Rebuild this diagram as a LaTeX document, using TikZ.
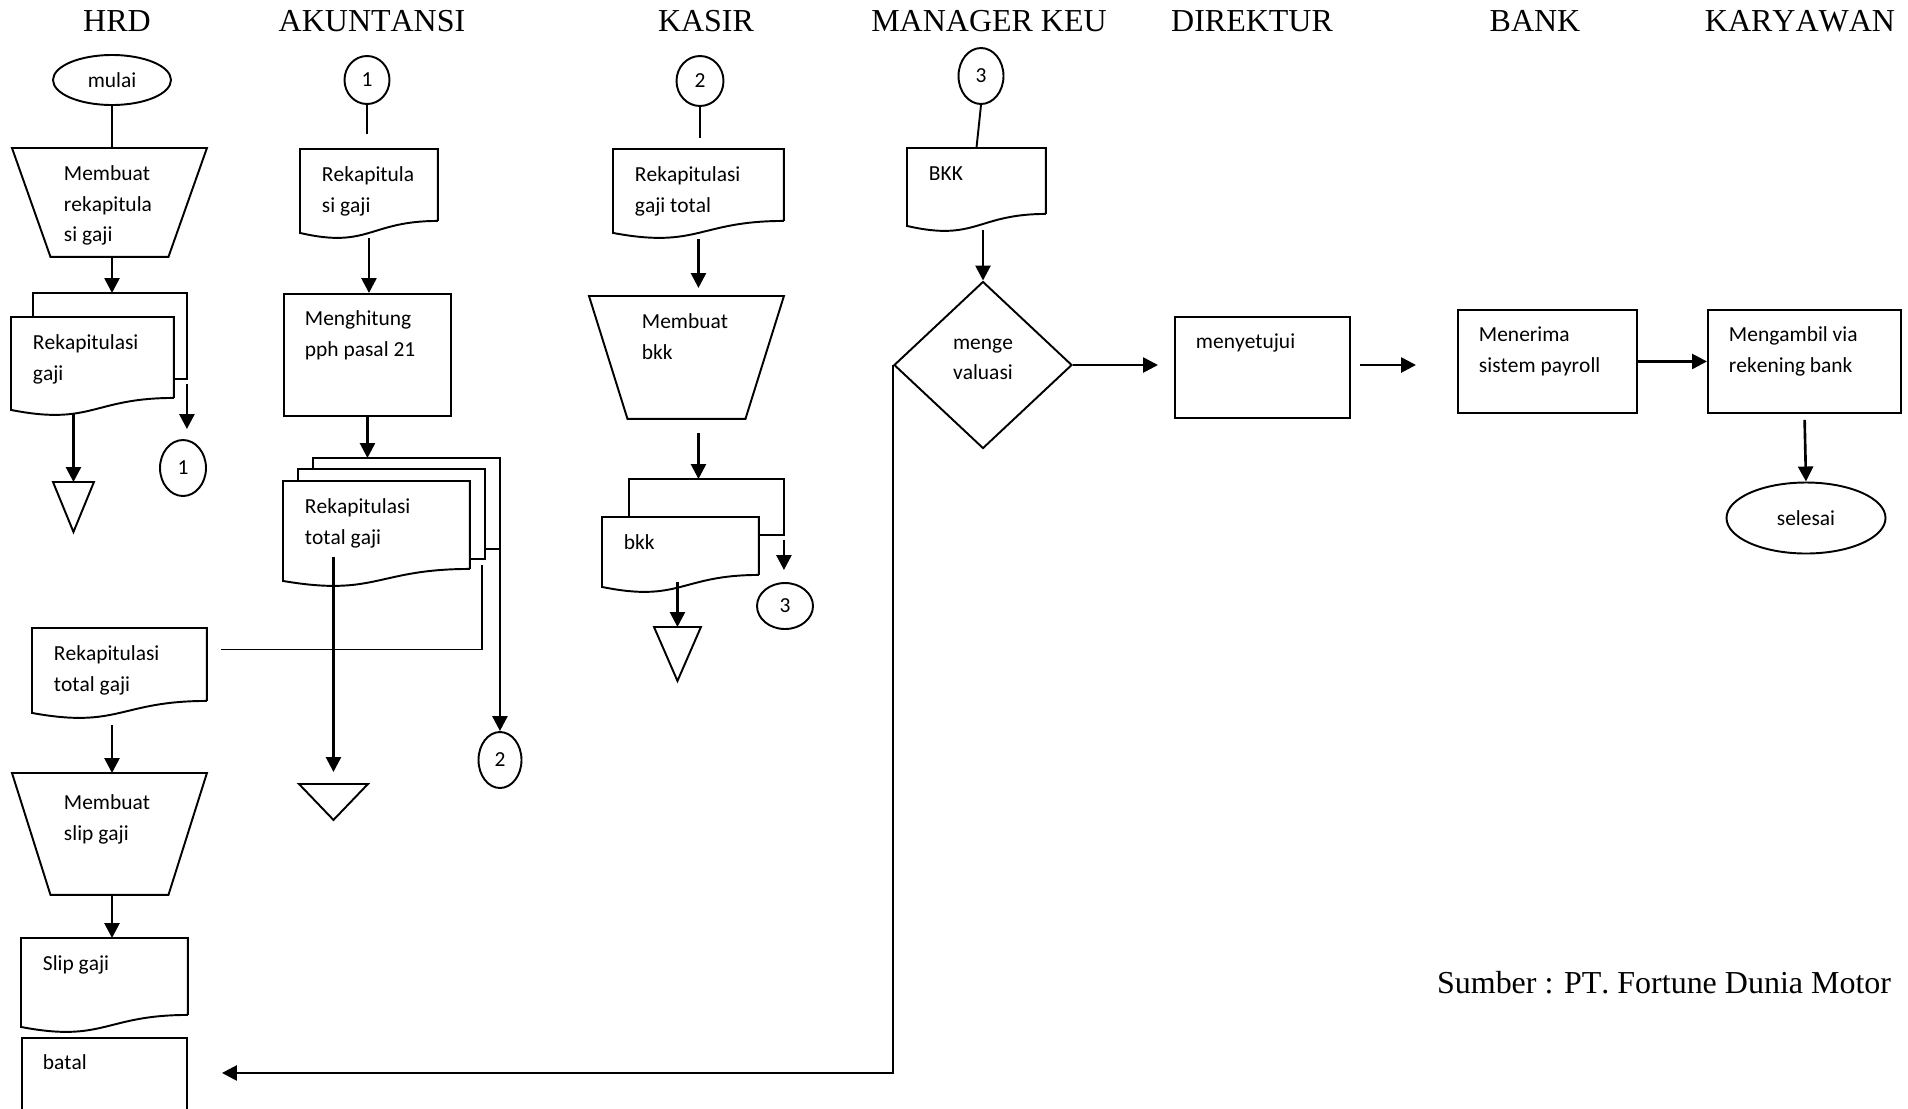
\documentclass[tikz,border=0pt]{standalone}
\usepackage{fontspec}
\setmainfont{Liberation Serif}[Kerning=Off]
\newfontfamily\bodyfamily{Carlito}[Kerning=Off]
\usetikzlibrary{arrows.meta,shapes.geometric}
\newcommand{\bodyfont}{\bodyfamily\fontsize{12.2}{17.1}\selectfont}
\newcommand{\titlefont}{\rmfamily\fontsize{18.2}{21}\selectfont}

\begin{document}
\begin{tikzpicture}[
    x=0.2mm, y=-0.2mm, line width=1.1pt,
    box/.style = { inner sep=0pt, anchor=north west },
    proc/.style = { box, draw },
    txt/.style = { anchor=north west, inner sep=0pt, xshift=4.2mm,
                   text width=40mm, align=flush left, text height=6.4mm,
                   text depth=0pt, font=\bodyfont },
    conn/.style = { draw, ellipse, inner sep=0pt, font=\bodyfont },
    head/.style = { font=\titlefont },
    arr/.style = { line width=1.5pt, -{Triangle[length=3mm,width=3mm]} }
    ]
\useasboundingbox (0,0) rectangle (1908,1108);
%
\node[head] (HRD) at (117,21) {HRD};
\node[head] (AKT) at (372,21) {AKUNTANSI};
\node[head] (KSR) at (706,21) {KASIR};
\node[head] (MGR) at (989,21) {MANAGER KEU};
\node[head] (DIR) at (1252,21) {DIREKTUR};
\node[head] (BNK) at (1535,21) {BANK};
\node[head] (KRY) at (1800,21) {KARYAWAN};
\node[head, anchor=east, inner sep=0pt] (SBR) at (1892,983) {Sumber : PT. Fortune Dunia Motor};
%
% HRD
\node[conn, minimum width=23.6mm, minimum height=10mm] (mulai) at (112,80) {mulai};
\node[box, minimum width=38.6mm, minimum height=21.4mm,
      label={[txt, xshift=6mm]north west:Membuat\\rekapitula\\si gaji}] (trapA) at (12,148) {};
\node[box, minimum width=30.4mm, minimum height=16.8mm] (backA) at (33,293) {};
\node[box, minimum width=32.2mm, minimum height=15.8mm,
      label={[txt]north west:Rekapitulasi\\gaji}] (docA) at (11,317) {};
\node[box, minimum width=7.8mm, minimum height=9.6mm] (triA) at (53,482) {};
\node[conn, minimum width=9.2mm, minimum height=11.2mm] (c1a) at (183,468) {1};
\node[box, minimum width=34.6mm, minimum height=14.2mm,
      label={[txt]north west:Rekapitulasi\\total gaji}] (docB) at (32,628) {};
\node[box, minimum width=38.6mm, minimum height=24mm,
      label={[txt, xshift=6mm, yshift=-0.8mm]north west:Membuat\\slip gaji}] (trapB) at (12,773) {};
\node[box, minimum width=33mm, minimum height=15mm,
      label={[txt]north west:Slip gaji}] (docC) at (21,938) {};
\node[proc, minimum width=33mm, minimum height=18mm,
      label={[txt]north west:batal}] (batal) at (21,1037) {};
%
% AKUNTANSI
\node[conn, minimum width=9mm, minimum height=9.6mm] (c1b) at (367,80) {1};
\node[box, minimum width=27.2mm, minimum height=14mm,
      label={[txt]north west:Rekapitula\\si gaji}] (docD) at (300,149) {};
\node[proc, minimum width=33.4mm, minimum height=24.4mm,
      label={[txt]north west:Menghitung\\pph pasal 21}] (pph) at (283,293) {};
\node[box, minimum width=37mm, minimum height=17.8mm] (backE) at (313,458) {};
\node[box, minimum width=37mm, minimum height=17.6mm] (midE) at (298,469) {};
\node[box, minimum width=37mm, minimum height=17.2mm,
      label={[txt]north west:Rekapitulasi\\total gaji}] (docE) at (283,481) {};
\node[box, minimum width=13.4mm, minimum height=6.8mm] (triB) at (299,784) {};
\node[conn, minimum width=8.6mm, minimum height=11.2mm] (c2a) at (500,760) {2};
%
% KASIR
\node[conn, minimum width=9.4mm, minimum height=10mm] (c2b) at (700,81) {2};
\node[box, minimum width=33.8mm, minimum height=14mm,
      label={[txt]north west:Rekapitulasi\\gaji total}] (docF) at (613,149) {};
\node[box, minimum width=38.6mm, minimum height=24.2mm,
      label={[txt, xshift=6.2mm]north west:Membuat\\bkk}] (trapC) at (589,296) {};
\node[box, minimum width=30.6mm, minimum height=10.8mm] (backG) at (629,479) {};
\node[box, minimum width=31mm, minimum height=11.2mm,
      label={[txt]north west:bkk}] (docG) at (602,517) {};
\node[box, minimum width=9mm, minimum height=10.4mm] (triC) at (654,627) {};
\node[conn, minimum width=11.2mm, minimum height=9.2mm] (c3a) at (785,606) {3};
%
% MANAGER KEU
\node[conn, minimum width=9mm, minimum height=11.2mm] (c3b) at (981,76) {3};
\node[box, minimum width=27.4mm, minimum height=12.8mm,
      label={[txt]north west:BKK}] (docH) at (907,148) {};
\node[draw, diamond, inner sep=0pt, minimum width=35.6mm, minimum height=33.4mm,
      label={[align=flush left, font=\bodyfont, yshift=1.2mm]center:menge\\valuasi}] (EVA) at (983,365) {};
%
% DIREKTUR, BANK, KARYAWAN
\node[proc, minimum width=35mm, minimum height=20.2mm,
      label={[txt]north west:menyetujui}] (setuju) at (1174,316) {};
\node[proc, minimum width=35.8mm, minimum height=20.6mm,
      label={[txt]north west:Menerima\\sistem payroll}] (terima) at (1457,309) {};
\node[proc, minimum width=38.6mm, minimum height=20.6mm,
      label={[txt]north west:Mengambil via\\rekening bank}] (ambil) at (1707,309) {};
\node[conn, minimum width=31.8mm, minimum height=14.2mm] (selesai) at (1806,518) {selesai};
%
% outlines
\foreach \Back/\Front in {backA/docA, backE/midE, midE/docE, backG/docG}
\draw (\Back.north west |- \Front.north) -- (\Back.north west) -- (\Back.north east)
      -- (\Back.south east) -- (\Back.south east -| \Front.east);
\foreach \Doc in {docA, docB, docC, docD, docE, docF, docG, docH}
\draw (\Doc.south east) -- (\Doc.north east) -- (\Doc.north west)
      -- ([yshift=-2.4mm]\Doc.south west)
      .. controls ([yshift=-5.6mm]\Doc.south) and (\Doc.south) .. (\Doc.south east);
\foreach \Trap in {trapA, trapB, trapC}
\draw (\Trap.north west) -- (\Trap.north east) -- ([xshift=-7.7mm]\Trap.south east)
      -- ([xshift=7.7mm]\Trap.south west) -- cycle;
\foreach \Tri in {triA, triB, triC}
\draw (\Tri.north west) -- (\Tri.north east) -- (\Tri.south) -- cycle;
%
% connectors
\foreach \Source/\Target in {%
        mulai.south/mulai.south |- trapA.north,
        c3b.south/docH.north%
    }
\draw (\Source) -- (\Target);
\draw[shorten >=3mm] (c1b.south) -- (c1b.south |- docD.north);
\draw[shorten >=2.2mm] (c2b.south) -- (c2b.south |- docF.north);
\coordinate (lnk) at ([shift={(-0.6mm,-1.2mm)}]midE.south east);
\draw ([shift={(2.8mm,3mm)}]docB.east) -| (lnk);
%
\foreach \Source/\Dy/\Target in {%
        mulai.south |- trapA.south/0/mulai.south |- backA.north,
        docA.south -| triA.north/15/triA.north,
        docD.south/17/docD.south |- pph.north,
        pph.south/0/pph.south |- backE.north,
        backE.south east/0/backE.south east |- c2a.north,
        mulai.south |- docB.south/24/mulai.south |- trapB.north,
        mulai.south |- trapB.south/0/mulai.south |- docC.north,
        docG.south -| triC.north/7/triC.north,
        EVA.north |- docH.south/16/EVA.north,
        terima.east/0/ambil.west%
    }
\draw[arr] (\Source) ++(0,\Dy) -- (\Target);
\draw[arr, shorten <=1mm, shorten >=2mm] (backA.south east) -- (backA.south east |- c1a.north);
\draw[arr, shorten >=2.4mm] (docE.south -| triB.north) ++(0,-12) -- (triB.north);
\draw[arr, shorten >=1.6mm] (docF.south) ++(0,18) -- (docF.south |- trapC.north);
\draw[arr, shorten <=2.8mm] (docF.south |- trapC.south) -- (docF.south |- backG.north);
\draw[arr, shorten <=1mm, shorten >=2.4mm] (backG.south east) -- (backG.south east |- c3a.north);
\draw[arr, shorten >=3.2mm] (EVA.east) -- (EVA.east -| setuju.west);
\draw[arr, shorten <=1.8mm, shorten >=8.2mm] (EVA.east -| setuju.east) -- (EVA.east -| terima.west);
\draw[arr, shorten <=1.2mm] (ambil.south) -- (selesai.north);
\draw[arr, shorten >=6.8mm] (EVA.west) |- ([yshift=2mm]batal.east);
\end{tikzpicture}
\end{document}
